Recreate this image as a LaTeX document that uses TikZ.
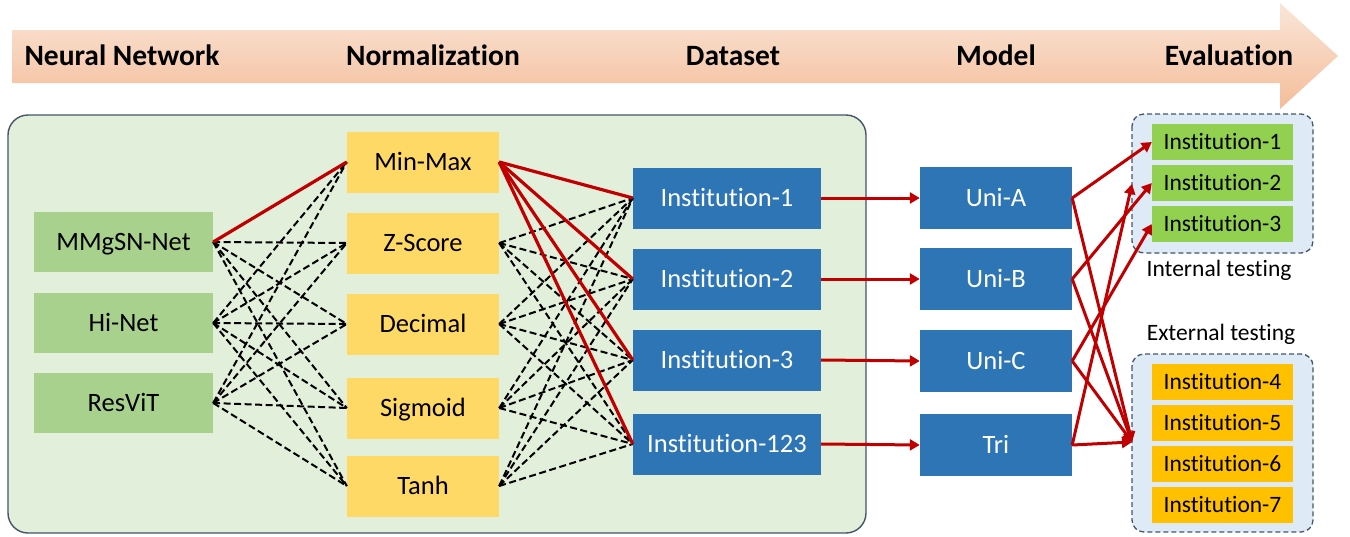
\documentclass[tikz,border=0pt]{standalone}
\usepackage{fontspec}
\setmainfont{Carlito}[Ligatures={NoCommon}]
\usetikzlibrary{arrows.meta}

\definecolor{hdrTop}{HTML}{FAE6D9}
\definecolor{hdrBot}{HTML}{F4BD99}
\definecolor{panelGreen}{HTML}{E2EFDA}
\definecolor{panelEdge}{HTML}{44546A}
\definecolor{nnGreen}{HTML}{A9D18E}
\definecolor{normYellow}{HTML}{FFD966}
\definecolor{dataBlue}{HTML}{2E75B6}
\definecolor{evalPanel}{HTML}{DEEBF7}
\definecolor{intGreen}{HTML}{92D050}
\definecolor{extOrange}{HTML}{FFC000}
\definecolor{linkRed}{HTML}{C00000}

\tikzset{
  hdr/.style={font=\fontsize{29.5}{34}\selectfont\bfseries, text height=19pt, text depth=0pt, inner sep=0pt},
  basebox/.style={rectangle, inner sep=0pt, font=\fontsize{26.5}{30}\selectfont, text height=17pt, text depth=0pt},
  nnbox/.style={basebox, fill=nnGreen, minimum width=179pt, minimum height=60pt},
  normbox/.style={basebox, fill=normYellow, minimum width=152pt, minimum height=61pt},
  databox/.style={basebox, fill=dataBlue, text=white, minimum width=188pt, minimum height=61pt},
  modelbox/.style={basebox, fill=dataBlue, text=white, minimum width=152pt, minimum height=62pt},
  evalbox/.style={rectangle, inner sep=0pt, font=\fontsize{23.5}{27}\selectfont, text height=15pt, text depth=0pt, minimum width=141pt, minimum height=36pt},
  intbox/.style={evalbox, fill=intGreen},
  extbox/.style={evalbox, fill=extOrange},
  grouppanel/.style={draw=panelEdge, fill=evalPanel, line width=1.3pt, dash pattern=on 5pt off 3pt, rounded corners=12pt},
  caption/.style={font=\fontsize{23.5}{27}\selectfont, text height=15pt, text depth=0pt, inner sep=0pt},
  option/.style={draw=black, line width=2pt, dash pattern=on 7pt off 3.5pt},
  chosen/.style={draw=linkRed, line width=3.2pt},
  flow/.style={draw=linkRed, line width=3pt, -{Triangle[length=10pt,width=11pt]}},
}

\begin{document}
\begin{tikzpicture}[x=1pt, y=-1pt]
\useasboundingbox (0,0) rectangle (1350,536);

% pipeline banner
\path[top color=hdrTop, bottom color=hdrBot]
  (12,30) -- (1280,30) -- (1280,3) -- (1338,56) -- (1280,109) -- (1280,83) -- (12,83) -- cycle;
\node[hdr] (hNN)   at (122,56)  {Neural Network};
\node[hdr] (hNorm) at (433,56)  {Normalization};
\node[hdr] (hData) at (733,56)  {Dataset};
\node[hdr] (hMod)  at (996,56)  {Model};
\node[hdr] (hEval) at (1229,56) {Evaluation};

% training panel
\draw[draw=panelEdge, fill=panelGreen, line width=1.4pt, rounded corners=20pt] (8,115) rectangle (866,533);

% neural networks
\node[nnbox] (nn1) at (123.5,242) {MMgSN-Net};
\node[nnbox] (nn2) at (123.5,323) {Hi-Net};
\node[nnbox] (nn3) at (123.5,403) {ResViT};

% normalizations
\node[normbox] (no1) at (423,162) {Min-Max};
\node[normbox] (no2) at (423,243) {Z-Score};
\node[normbox] (no3) at (423,324) {Decimal};
\node[normbox] (no4) at (423,408) {Sigmoid};
\node[normbox] (no5) at (423,486) {Tanh};

% datasets
\node[databox] (d1) at (727,198) {Institution-1};
\node[databox] (d2) at (727,279) {Institution-2};
\node[databox] (d3) at (727,360) {Institution-3};
\node[databox] (d4) at (727,444) {Institution-123};

% models
\node[modelbox] (m1) at (996,198) {Uni-A};
\node[modelbox] (m2) at (996,279) {Uni-B};
\node[modelbox] (m3) at (996,361) {Uni-C};
\node[modelbox] (m4) at (996,445) {Tri};

% evaluation groups
\draw[grouppanel] (1132,114) rectangle (1313,253);
\draw[grouppanel] (1132,354) rectangle (1313,532);
\coordinate (intIn) at (1132,184);
\coordinate (extIn) at (1132,442);

\node[intbox] (e1) at (1222.5,142) {Institution-1};
\node[intbox] (e2) at (1222.5,183) {Institution-2};
\node[intbox] (e3) at (1222.5,224) {Institution-3};
\node[extbox] (e4) at (1222.5,382) {Institution-4};
\node[extbox] (e5) at (1222.5,423) {Institution-5};
\node[extbox] (e6) at (1222.5,464) {Institution-6};
\node[extbox] (e7) at (1222.5,505) {Institution-7};

\node[caption] (capInt) at (1219,269) {Internal testing};
\node[caption] (capExt) at (1221,333) {External testing};

% network -> normalization
\foreach \a in {1,2,3}{
  \foreach \b in {1,...,5}{
    \draw[option] (nn\a.east) -- (no\b.west);
  }
}
% normalization -> dataset
\foreach \a in {2,...,5}{
  \foreach \b in {1,...,4}{
    \draw[option] (no\a.east) -- (d\b.west);
  }
}
% selected combination
\draw[chosen] (nn1.east) -- (no1.west);
\foreach \b in {1,...,4}{
  \draw[chosen] (no1.east) -- (d\b.west);
}

% dataset -> model
\foreach \k in {1,...,4}{
  \draw[flow] (d\k.east) -- (m\k.west);
}

% model -> evaluation
\draw[flow] (m1.east) -- (e1.west);
\draw[flow] (m2.east) -- (e2.west);
\draw[flow] (m3.east) -- (e3.west);
\draw[flow] (m4.east) -- (intIn);
\draw[flow] (m1.east) -- (extIn);
\draw[flow] (m2.east) -- (extIn);
\draw[flow] (m3.east) -- (extIn);
\draw[flow] (m4.east) -- (extIn);
\end{tikzpicture}
\end{document}
